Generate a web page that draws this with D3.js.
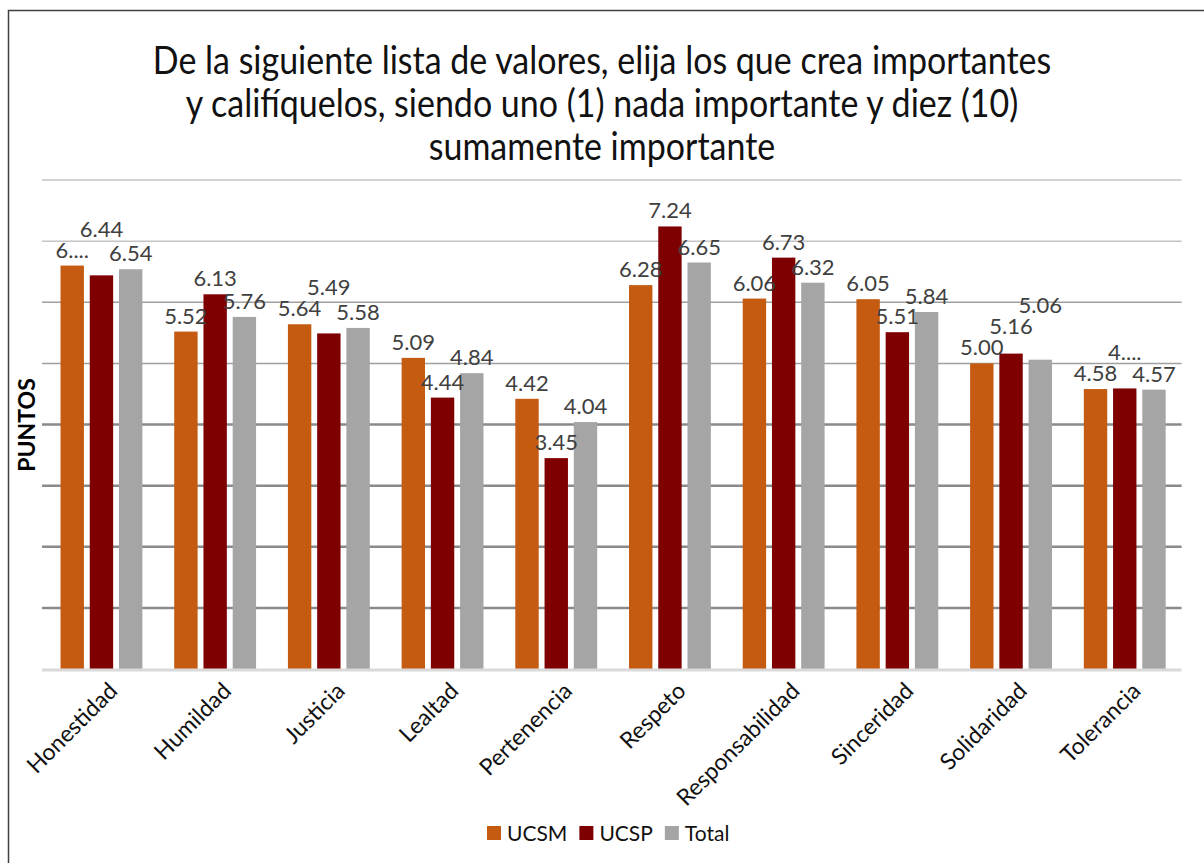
<!DOCTYPE html>
<html>
<head>
<meta charset="utf-8">
<script src="https://cdn.jsdelivr.net/npm/d3@7"></script>
<style>
  body { margin: 0; background: #fff; }
  text { font-family: Lato, "Open Sans", sans-serif; }
</style>
</head>
<body>
<div id="chart"></div>
<script>
var width = 1204, height = 863;

// values
var categories = ['Honestidad', 'Humildad', 'Justicia', 'Lealtad', 'Pertenencia',
  'Respeto', 'Responsabilidad', 'Sinceridad', 'Solidaridad', 'Tolerancia'];
var seriesNames = ['UCSM', 'UCSP', 'Total'];
var ucsm  = [6.60, 5.52, 5.64, 5.09, 4.42, 6.28, 6.06, 6.05, 5.00, 4.58];
var ucsp  = [6.44, 6.13, 5.49, 4.44, 3.45, 7.24, 6.73, 5.51, 5.16, 4.59];
var total = [6.54, 5.76, 5.58, 4.84, 4.04, 6.65, 6.32, 5.84, 5.06, 4.57];
var gridValues = [1, 2, 3, 4, 5, 6, 7, 8];
// labels that were cut short in the original
var shortLabels = { 'UCSM|Honestidad': '6....', 'UCSP|Tolerancia': '4....' };
var titleLines = ['De la siguiente lista de valores, elija los que crea importantes',
  'y califíquelos, siendo uno (1) nada importante y diez (10)',
  'sumamente importante'];

var colors = d3.scaleOrdinal()
  .domain(seriesNames)
  .range(['#C55A11', '#7F0000', '#A5A5A5']);

var seriesValues = { UCSM: ucsm, UCSP: ucsp, Total: total };
var rows = categories.map(function(c, i) {
  return { cat: c, vals: seriesNames.map(function(s) {
    return { series: s, cat: c, value: seriesValues[s][i] };
  }) };
});

var svg = d3.select('#chart').append('svg')
  .attr('width', width)
  .attr('height', height);

// frame (right and bottom edges fall outside the picture)
svg.append('path')
  .attr('d', 'M8.5,' + height + 'V10.5H' + width)
  .attr('fill', 'none')
  .attr('stroke', '#404040')
  .attr('stroke-width', 1.5);

var plot = { left: 44.6, right: 1181.6, top: 180, bottom: 669 };

var x0 = d3.scaleBand()
  .domain(categories)
  .range([plot.left, plot.right])
  .paddingInner(0.28)
  .paddingOuter(0.14);

var x1 = d3.scaleBand()
  .domain(seriesNames)
  .range([0, x0.bandwidth()])
  .paddingInner(0.2);

var y = d3.scaleLinear()
  .domain([0, 8])
  .range([plot.bottom, plot.top]);

// title (glyphs a little taller than wide in the original)
svg.append('g')
  .selectAll('text')
  .data(titleLines)
  .enter()
  .append('text')
  .attr('transform', function(d, i) {
    return 'translate(602,' + (74 + i * 43) + ') scale(1,1.12)';
  })
  .attr('text-anchor', 'middle')
  .style('font-size', '34px')
  .attr('fill', '#111')
  .text(function(d) { return d; });

// gridlines
svg.append('g')
  .attr('class', 'grid')
  .selectAll('line')
  .data(gridValues)
  .enter()
  .append('line')
  .attr('x1', 42)
  .attr('x2', plot.right)
  .attr('y1', function(d) { return y(d); })
  .attr('y2', function(d) { return y(d); })
  .attr('stroke', function(d) { return d >= 7 ? '#c4c4c4' : d >= 5 ? '#a0a0a0' : '#8a8a8a'; })
  .attr('stroke-width', function(d) { return d >= 5 ? 1.5 : 2.5; });

// bars
var groups = svg.append('g')
  .selectAll('g')
  .data(rows)
  .enter()
  .append('g')
  .attr('transform', function(d) { return 'translate(' + x0(d.cat) + ',0)'; });

groups.selectAll('rect')
  .data(function(d) { return d.vals; })
  .enter()
  .append('rect')
  .attr('x', function(d) { return x1(d.series); })
  .attr('y', function(d) { return y(d.value); })
  .attr('width', x1.bandwidth())
  .attr('height', function(d) { return y(0) - y(d.value); })
  .attr('fill', function(d) { return colors(d.series); });

// baseline
svg.append('line')
  .attr('x1', 42)
  .attr('x2', plot.right)
  .attr('y1', y(0) + 1)
  .attr('y2', y(0) + 1)
  .attr('stroke', '#d9d9d9')
  .attr('stroke-width', 3);

// data labels, stacked upward when they would collide
var fmt = d3.format('.2f');
var labelLayer = svg.append('g').attr('class', 'labels');
rows.forEach(function(row) {
  var placed = [];
  row.vals.forEach(function(d) {
    var cx = x0(d.cat) + x1(d.series) + x1.bandwidth() / 2;
    var t = labelLayer.append('text')
      .attr('x', cx)
      .attr('text-anchor', 'middle')
      .attr('fill', '#404040')
      .style('font-size', '22px')
      .text(shortLabels[d.series + '|' + d.cat] || fmt(d.value));
    var w = t.node().getComputedTextLength(), h = 17;
    var base = y(d.value) - 8;
    var moved = true;
    while (moved) {
      moved = false;
      placed.forEach(function(p) {
        var hOver = Math.abs(p.cx - cx) < (p.w + w) / 2 + 1;
        var vOver = base > p.base - h - 3 && base - h - 3 < p.base;
        if (hOver && vOver) { base = p.base - h - 4; moved = true; }
      });
    }
    t.attr('y', base);
    placed.push({ cx: cx, w: w, base: base });
  });
});

// category labels
svg.append('g')
  .selectAll('text')
  .data(categories)
  .enter()
  .append('text')
  .attr('transform', function(d) {
    return 'translate(' + (x0(d) + x0.bandwidth() / 2 + 6) + ',' + (plot.bottom + 12) + ') rotate(-45)';
  })
  .attr('text-anchor', 'end')
  .attr('dy', '0.7em')
  .style('font-size', '23px')
  .attr('fill', '#111')
  .text(function(d) { return d; });

// y axis title
svg.append('text')
  .attr('transform', 'translate(35,425) rotate(-90)')
  .attr('text-anchor', 'middle')
  .style('font-size', '23px')
  .style('font-weight', 'bold')
  .attr('fill', '#000')
  .text('PUNTOS');

// legend, items laid out from their text widths
var legend = svg.append('g').attr('transform', 'translate(487,826)');
var item = legend.selectAll('g')
  .data(seriesNames)
  .enter()
  .append('g');
item.append('rect')
  .attr('width', 14)
  .attr('height', 14)
  .attr('fill', function(d) { return colors(d); });
item.append('text')
  .attr('x', 20)
  .attr('y', 15)
  .style('font-size', '21px')
  .attr('fill', '#111')
  .text(function(d) { return d; });
var offset = 0;
item.attr('transform', function() {
  var here = offset;
  offset += 20 + this.querySelector('text').getComputedTextLength() + 12;
  return 'translate(' + here + ',0)';
});
</script>
</body>
</html>
